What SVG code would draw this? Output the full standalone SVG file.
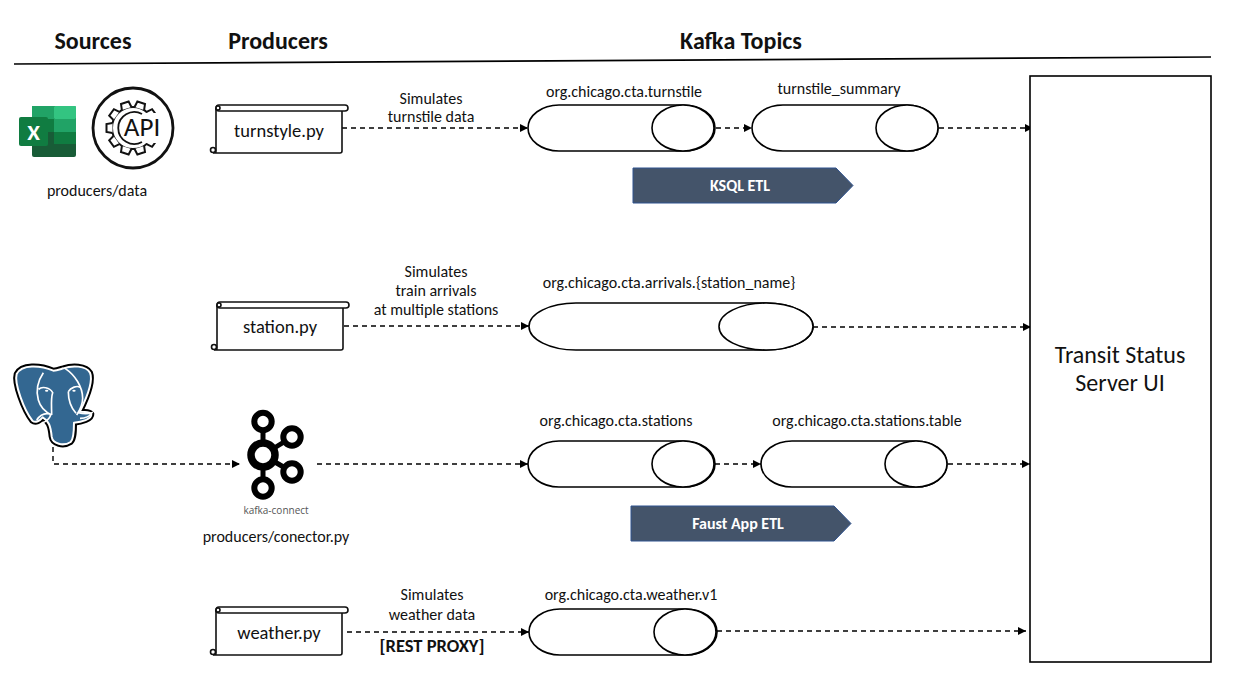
<svg xmlns="http://www.w3.org/2000/svg" xmlns:xlink="http://www.w3.org/1999/xlink" width="1250" height="693" viewBox="0 0 1250 693">
<style>
text{font-family:"Carlito","Open Sans","Liberation Sans",sans-serif;fill:#111;text-anchor:middle}
.h{font-size:24px;font-weight:700}
.l{font-size:16px}
.f{font-size:18.500px}
.b{font-size:16px;font-weight:700;fill:#fff}
.o{fill:#fff;stroke:#000;stroke-width:1.6}
.c{fill:none;stroke:#000;stroke-width:1.4;stroke-dasharray:5 4;marker-end:url(#a)}
.s{fill:#fff;stroke:#111;stroke-width:1.6}
.k{fill:#fff;stroke:#000;stroke-width:6}
</style>
<defs>
<marker id="a" markerUnits="userSpaceOnUse" markerWidth="9" markerHeight="9" refX="8" refY="4" orient="auto"><path d="M0 0L8 4L0 8Z" fill="#000"/></marker>
<g id="scroll">
<path class="s" d="M4 3V46a2 2 0 0 1-2 2H1M1 48H128a2 2 0 0 0 2-2V6"/>
<circle cx="1" cy="45" r="2.500" fill="#fff" stroke="#111" stroke-width="1.600"/>
<rect class="s" x="4" y="0" width="132" height="6" rx="3"/>
<circle class="s" cx="6" cy="3" r="2"/>
</g>
<path id="tooth" d="M-5 -20.500L-4 -26.500H4L5 -20.500" fill="#fff" stroke="#111" stroke-width="2"/>
</defs>
<rect width="1250" height="693" fill="#fff"/>
<g id="headers">
<text class="h" x="93" y="49">Sources</text>
<text class="h" x="278" y="49">Producers</text>
<text class="h" x="741" y="49">Kafka Topics</text>
<path d="M14 64L1211 57" stroke="#000" stroke-width="1.6"/>
</g>
<g id="connectors">
<path class="c" d="M342 128H528"/>
<path class="c" d="M716 128H752"/>
<path class="c" d="M939 128H1033"/>
<path class="c" d="M344 326H529"/>
<path class="c" d="M813 327H1031"/>
<path class="c" d="M53 447V464H240"/>
<path class="c" d="M317 464H528"/>
<path class="c" d="M715 464H761"/>
<path class="c" d="M948 464H1030"/>
<path class="c" d="M347 632H529"/>
<path class="c" d="M717 631H1026"/>
</g>
<g id="excel">
<rect x="32" y="106" width="44" height="51" rx="2" fill="#185c37"/>
<rect x="32" y="106" width="22" height="13" fill="#21a366"/>
<rect x="54" y="106" width="22" height="13" rx="1" fill="#33c481"/>
<rect x="32" y="119" width="44" height="13" fill="#107c41"/>
<rect x="54" y="119" width="22" height="13" fill="#21a366"/>
<rect x="54" y="132" width="22" height="12" fill="#107c41"/>
<rect x="19" y="117" width="29" height="29" rx="2" fill="#107c41"/>
<text x="33.500" y="139.500" style="font-size:23px;font-weight:700;fill:#fff">X</text>
</g>
<g id="api">
<circle cx="133" cy="128" r="40" fill="#fff" stroke="#111" stroke-width="2.800"/>
<circle cx="133" cy="128" r="21" fill="#fff" stroke="#111" stroke-width="2"/>
<g transform="translate(133 128)">
<use xlink:href="#tooth" href="#tooth" transform="rotate(18)"/>
<use xlink:href="#tooth" href="#tooth" transform="rotate(54)"/>
<use xlink:href="#tooth" href="#tooth" transform="rotate(126)"/>
<use xlink:href="#tooth" href="#tooth" transform="rotate(162)"/>
<use xlink:href="#tooth" href="#tooth" transform="rotate(198)"/>
<use xlink:href="#tooth" href="#tooth" transform="rotate(234)"/>
<use xlink:href="#tooth" href="#tooth" transform="rotate(270)"/>
<use xlink:href="#tooth" href="#tooth" transform="rotate(306)"/>
<use xlink:href="#tooth" href="#tooth" transform="rotate(342)"/>
</g>
<rect x="146" y="113" width="17" height="30" fill="#fff"/>
<path d="M142 114A16 16 0 1 0 142 142" fill="none" stroke="#111" stroke-width="1.800"/>
<text x="142" y="136" style="font-size:27px;fill:#111">API</text>
</g>
<text class="l" x="97" y="196">producers/data</text>
<g id="turnstyle"><use xlink:href="#scroll" href="#scroll" x="212" y="105"/><text class="f" x="279" y="137">turnstyle.py</text></g>
<g id="station"><use xlink:href="#scroll" href="#scroll" x="213" y="302"/><text class="f" x="280" y="333">station.py</text></g>
<g id="weather"><use xlink:href="#scroll" href="#scroll" x="212" y="607"/><text class="f" x="279" y="639">weather.py</text></g>
<g id="postgres" transform="translate(0 350) scale(.3333)">
<path d="M160 62C120 45 65 42 50 72C42 100 72 180 97 212C107 220 120 212 128 202C146 212 152 228 155 260C158 282 190 290 212 276C222 266 222 240 222 218C245 216 275 208 274 192C268 184 250 188 240 184C262 140 280 92 270 68C258 46 215 46 190 55C180 58 170 62 160 62Z" fill="#336791" stroke="#000" stroke-width="18" stroke-linejoin="round"/>
<path d="M160 62C120 45 65 42 50 72C42 100 72 180 97 212C107 220 120 212 128 202C146 212 152 228 155 260C158 282 190 290 212 276C222 266 222 240 222 218C245 216 275 208 274 192C268 184 250 188 240 184C262 140 280 92 270 68C258 46 215 46 190 55C180 58 170 62 160 62Z" fill="#336791" stroke="#fff" stroke-width="6" stroke-linejoin="round"/>
<path d="M130 68C112 95 108 125 115 150C122 175 140 188 155 195M195 55C225 75 248 110 248 145C248 165 240 180 230 195M116 118C125 108 150 112 158 128C152 145 155 170 155 195M205 125C212 112 232 106 240 112M205 125C205 150 215 175 228 190M110 210C120 195 135 188 150 192C155 200 140 215 125 220M235 188C250 192 265 192 276 188C270 198 255 205 240 205" fill="none" stroke="#fff" stroke-width="5"/>
<ellipse cx="140" cy="122" rx="5" ry="3" fill="#fff"/><ellipse cx="222" cy="122" rx="5" ry="3" fill="#fff"/>
</g>
<g id="kafka-connect">
<path d="M263 420V488M263 455L292 437M263 455L292 472" stroke="#000" stroke-width="5" fill="none"/>
<circle class="k" cx="263" cy="421.500" r="8.700"/>
<circle class="k" cx="292" cy="437" r="8.700"/>
<circle cx="263" cy="455" r="12" fill="#fff" stroke="#000" stroke-width="7.500"/>
<circle class="k" cx="292" cy="472" r="8.700"/>
<circle class="k" cx="263" cy="488" r="8.700"/>
<text x="276" y="514" style="font-family:'Open Sans',sans-serif;font-size:10px;fill:#555">kafka-connect</text>
</g>
<text class="l" x="276" y="542">producers/conector.py</text>
<g id="labels">
<text class="l" x="431" y="104">Simulates</text>
<text class="l" x="431" y="122">turnstile data</text>
<text class="l" x="436" y="277">Simulates</text>
<text class="l" x="436" y="296">train arrivals</text>
<text class="l" x="436" y="315">at multiple stations</text>
<text class="l" x="432" y="600">Simulates</text>
<text class="l" x="432" y="620">weather data</text>
<text x="432" y="652" style="font-size:18.500px;font-weight:700">[REST PROXY]</text>
</g>
<g id="t1"><rect class="o" x="528" y="105" width="187" height="46" rx="31" ry="23"/><ellipse class="o" cx="683" cy="128" rx="31" ry="23"/><text class="l" x="624" y="97">org.chicago.cta.turnstile</text></g>
<g id="t2"><rect class="o" x="752" y="105" width="186" height="46" rx="31" ry="23"/><ellipse class="o" cx="907" cy="128" rx="31" ry="23"/><text class="l" x="839" y="94">turnstile_summary</text></g>
<g id="t3"><rect class="o" x="529" y="303" width="284" height="47" rx="47" ry="23.500"/><ellipse class="o" cx="766" cy="326.500" rx="47" ry="23.500"/><text class="l" x="669" y="288">org.chicago.cta.arrivals.{station_name}</text></g>
<g id="t4"><rect class="o" x="528" y="441" width="187" height="46" rx="31" ry="23"/><ellipse class="o" cx="683" cy="464" rx="31" ry="23"/><text class="l" x="616" y="426">org.chicago.cta.stations</text></g>
<g id="t5"><rect class="o" x="761" y="441" width="186" height="46" rx="31" ry="23"/><ellipse class="o" cx="916" cy="464" rx="31" ry="23"/><text class="l" x="867" y="426">org.chicago.cta.stations.table</text></g>
<g id="t6"><rect class="o" x="529" y="609" width="188" height="46" rx="31" ry="23"/><ellipse class="o" cx="685" cy="632" rx="31" ry="23"/><text class="l" x="631" y="600">org.chicago.cta.weather.v1</text></g>
<g id="ksql"><path d="M633 168H836L853 185.500L836 203H633Z" fill="#44546a" stroke="#2f528f"/><text class="b" x="740" y="191">KSQL ETL</text></g>
<g id="faust"><path d="M631 506H834L851 523.500L834 541H631Z" fill="#44546a" stroke="#2f528f"/><text class="b" x="738" y="529">Faust App ETL</text></g>
<g id="ui"><rect x="1030" y="76" width="181" height="586" fill="#fff" stroke="#000" stroke-width="1.600"/><text x="1120" y="363" style="font-size:24px">Transit Status</text><text x="1120" y="391" style="font-size:24px">Server UI</text></g>
</svg>
